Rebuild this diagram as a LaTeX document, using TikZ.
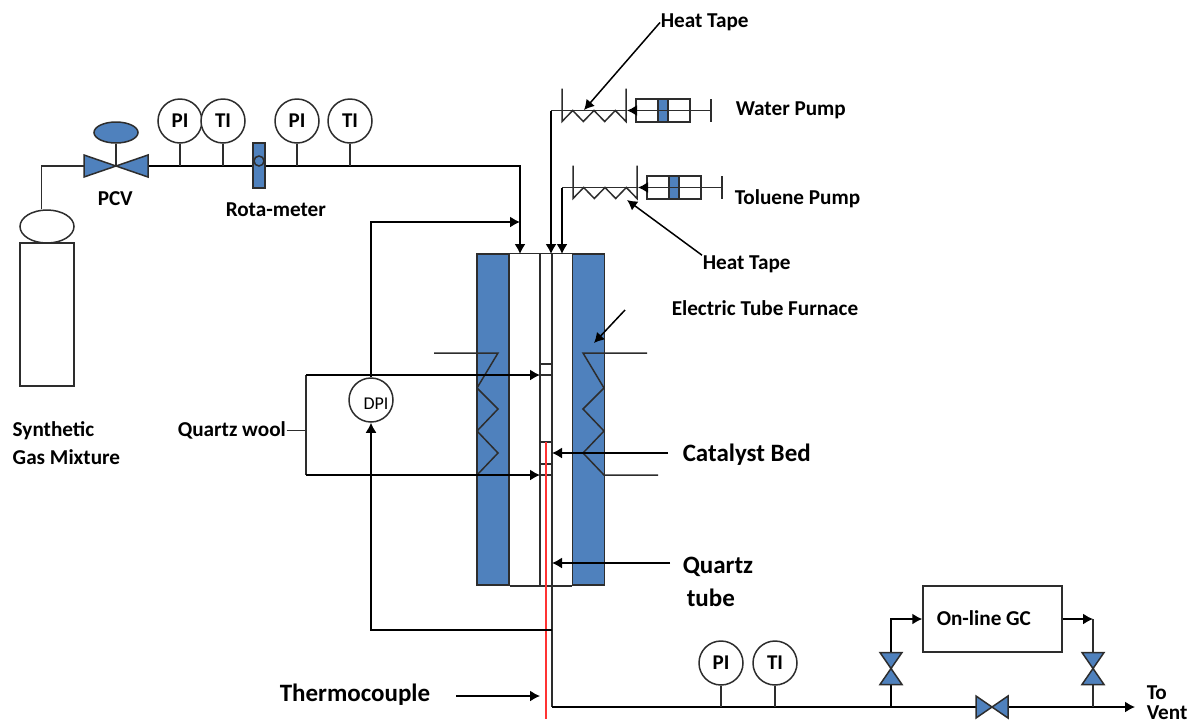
\documentclass[tikz,border=0pt]{standalone}
\usepackage{fontspec}
\setmainfont{Carlito}
\usetikzlibrary{arrows.meta,positioning,shapes.geometric}
\definecolor{myblue}{RGB}{79,129,189}
\definecolor{myline}{RGB}{45,45,45}
\begin{document}
\begin{tikzpicture}[x=0.5pt,y=-0.5pt,line width=0.75pt,draw=myline,
  arw/.style={-{Latex[length=5pt,width=5.5pt]},black},
  inst/.style={draw,circle,fill=white,inner sep=0pt,minimum size=22pt,font=\bfseries\fontsize{10.5}{11}\selectfont},
  lab/.style={anchor=west,inner sep=0pt,yshift=-0.75pt,font=\bfseries\fontsize{10.6}{11}\selectfont},
  biglab/.style={anchor=west,inner sep=0pt,yshift=-0.75pt,font=\bfseries\fontsize{12.5}{13}\selectfont},
  furn/.style={draw,fill=myblue,inner sep=0pt,minimum width=16pt,minimum height=165.5pt},
  valvepic/.pic={\draw[fill=myblue] (-16,-11) -- (0,0) -- (-16,11) -- cycle (16,-11) -- (0,0) -- (16,11) -- cycle;},
  pumppic/.pic={\draw (0,-11.5) rectangle (54,11.5);
    \draw[fill=myblue] (22,-11.5) rectangle (32,11.5);
    \draw (0,0) -- (75,0) (75,-11.5) -- (75,11.5);},
  tapepic/.pic={\draw (0,-22) -- (0,11) -- (10.7,0) -- (21.3,11) -- (32,0) -- (42.7,11) -- (53.3,0) -- (64,11) -- (64,-22);}]

  \useasboundingbox (0,0) rectangle (1188,724);

  % gas cylinder
  \node[draw,inner sep=0pt,minimum width=27pt,minimum height=71.5pt] (cyl) at (47,314.5) {};
  \node[draw,ellipse,fill=white,inner sep=0pt,minimum width=27pt,minimum height=16.5pt] (cap) at (47,226.5) {};

  % furnace and reactor
  \node[furn] (furnL) at (493,419.5) {};
  \node[furn] (furnR) at (588.5,419.5) {};
  \draw (furnL.north east) -- (furnR.north west) (furnL.south east) -- (furnR.south west);

  % heating coils
  \draw (434,353) -- (498,353) -- (477,388) -- (498,409) -- (477,431) -- (498,453) -- (477,475);
  \draw (647,353) -- (583,353) -- (604,388) -- (583,409) -- (604,431) -- (583,453) -- (604,475) -- (658,475);

  % quartz tube
  \coordinate (tubeT) at (540,254);
  \coordinate (tubeB) at (540,585);
  \coordinate (outT) at (552,254);
  \coordinate (ventC) at (552,707);
  \draw (tubeT) -- (tubeB) (outT) -- (ventC);
  \foreach \yy in {364,375,442,464,475} \draw (540,\yy) -- (552,\yy);
  \draw[red!80!white] (546,442) -- (546,719);

  % feed line
  \coordinate (cylUp) at (41.5,166);
  \coordinate (pcv) at (116,166);
  \coordinate (gasIn) at (520,254);
  \draw (cap.north -| cylUp) -- (cylUp) -- (pcv);
  \draw[arw] (pcv) -| (gasIn);
  \pic[xscale=2] at (pcv) {valvepic};
  \node[draw,ellipse,fill=myblue,inner sep=0pt,minimum width=22pt,minimum height=10.5pt] (pcvtop) at (116,132.5) {};
  \draw (pcvtop) -- (pcv);

  % instruments on feed line
  \node[inst] (pi1) at (180,121) {PI};
  \node[inst] (ti1) at (223,121) {TI};
  \node[inst] (pi2) at (297,121) {PI};
  \node[inst] (ti2) at (350,121) {TI};
  \foreach \nn in {pi1,ti1,pi2,ti2} \draw (\nn.south) -- (\nn.south |- pcv);
  \node[draw,fill=myblue,inner sep=0pt,minimum width=6pt,minimum height=22.5pt] (rota) at (259,165.5) {};
  \node[draw,circle,inner sep=0pt,minimum size=5pt] (rotaball) at (259,161) {};

  % water and toluene pumps
  \coordinate (wpump) at (636,110.5);
  \coordinate (wline) at (551,110.5);
  \coordinate (wIn) at (551,254);
  \coordinate (tpump) at (647,187.5);
  \coordinate (tline) at (562,187.5);
  \coordinate (tIn) at (562,254);
  \pic at (wpump) {pumppic};
  \pic at (tpump) {pumppic};
  \pic at (562,110.5) {tapepic};
  \pic at (573,187.5) {tapepic};
  \draw[arw] (wpump) -- (627,110.5);
  \draw[arw] (tpump) -- (638,187.5);
  \draw (627,110.5) -- (wline);
  \draw (638,187.5) -- (tline);
  \draw[arw] (wline) -- (wIn);
  \draw[arw] (tline) -- (tIn);

  % differential pressure
  \node[draw,circle,fill=white,inner sep=0pt,minimum size=22pt] (dpi) at (371,400) {};
  \node[inner sep=0pt,font=\fontsize{9}{9}\selectfont] (dpitxt) at (376,404) {DPI};
  \coordinate (dpTop) at (520,222);
  \coordinate (dpBot) at (552,630);
  \draw[arw] (dpi.north) |- (dpTop);
  \draw[arw] (dpBot) -| (dpi.south);

  % quartz wool taps
  \coordinate (woolT) at (306,375);
  \coordinate (woolB) at (306,475);
  \coordinate (tapT) at (540,375);
  \coordinate (tapB) at (540,475);
  \draw (woolT) -- (woolB);
  \draw[arw] (woolT) -- (tapT);
  \draw[arw] (woolB) -- (tapB);
  \node[lab] (woollab) at (177,429) {Quartz wool};
  \draw (woollab.east) -- (woollab.east -| woolT);

  % outlet line
  \coordinate (vent) at (1135,707);
  \draw[arw] (ventC) -- (vent);
  \node[inst] (pi3) at (721,663) {PI};
  \node[inst] (ti3) at (775,663) {TI};
  \foreach \nn in {pi3,ti3} \draw (\nn.south) -- (\nn.south |- vent);
  \node[draw,fill=white,inner sep=0pt,minimum width=69.5pt,minimum height=33pt] (gc) at (992.5,619) {};
  \node[lab] (gclab) at (936,617) {On-line GC};
  \coordinate (vL) at (891,668.5);
  \coordinate (vR) at (1093,668.5);
  \coordinate (vM) at (992,707);
  \draw[arw] (vL |- vent) -- (vL) |- (gc.west);
  \draw[arw] (gc.east) -- (gc.east -| vR);
  \draw (gc.east -| vR) -- (vR |- vent);
  \pic[rotate=90] at (vL) {valvepic};
  \pic[rotate=90] at (vR) {valvepic};
  \pic at (vM) {valvepic};

  % labels and their arrows
  \node[lab] (tape1) at (660,21) {Heat Tape};
  \node[lab] (tape2) at (702,263) {Heat Tape};
  \node[lab] (wlab) at (735,109) {Water Pump};
  \node[lab] (tlab) at (734,197) {Toluene Pump};
  \node[lab] (flab) at (671,307) {Electric Tube Furnace};
  \node[biglab] (catlab) at (682,453) {Catalyst Bed};
  \node[biglab] (qlab1) at (682,565) {Quartz};
  \node[biglab] (qlab2) at (686,596) {tube};
  \node[biglab] (tclab) at (279,693) {Thermocouple};
  \node[lab] (gaslab1) at (12,429) {Synthetic};
  \node[lab] (gaslab2) at (12,456) {Gas Mixture};
  \node[lab] (pcvlab) at (97,197) {PCV};
  \node[lab] (rotalab) at (225,208) {Rota-meter};
  \node[lab] (tolab) at (1146,691) {To};
  \node[lab] (ventlab) at (1146,711) {Vent};

  \coordinate (tapeTip1) at (584,110);
  \coordinate (tapeTip2) at (627,200);
  \coordinate (furnTip) at (594,343);
  \coordinate (furnTail) at (625,310);
  \coordinate (catTail) at (668,453);
  \coordinate (catTip) at (552,453);
  \coordinate (qTail) at (670,563);
  \coordinate (qTip) at (552,563);
  \coordinate (tcTail) at (456,696);
  \coordinate (tcTip) at (540,696);
  \draw[arw] (tape1.west) -- (tapeTip1);
  \draw[arw] (tape2.north west) -- (tapeTip2);
  \draw[arw] (furnTail) -- (furnTip);
  \draw[arw] (catTail) -- (catTip);
  \draw[arw] (qTail) -- (qTip);
  \draw[arw] (tcTail) -- (tcTip);
\end{tikzpicture}
\end{document}
